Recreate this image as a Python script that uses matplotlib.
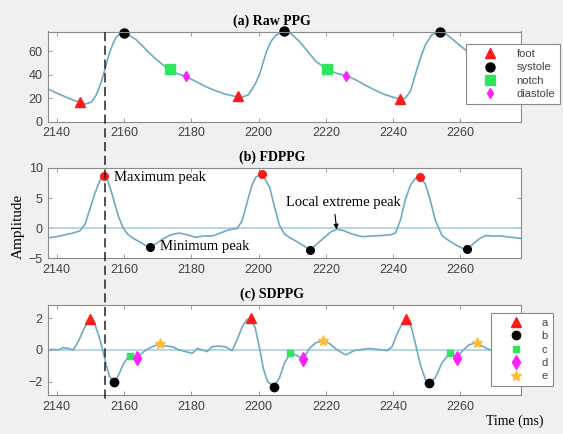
import matplotlib
matplotlib.use('Agg')
import matplotlib.pyplot as plt
import matplotlib.transforms as mtransforms
from matplotlib.lines import Line2D

# (a) raw PPG
ppg_t = [2137.5, 2140, 2143, 2146, 2148.4, 2150.3, 2151.8, 2153.3, 2154.3, 2155.2,
         2156.2, 2157.5, 2158.7, 2159.9, 2161.6, 2163.6, 2165.6, 2167.5, 2169.5, 2171.5,
         2173.6, 2175.9, 2178.3, 2181.3, 2184.2, 2187.2, 2190.1, 2193.1, 2195, 2197,
         2199, 2200.5, 2201.5, 2202.5, 2203.8, 2205.2, 2207.5, 2209.7, 2212.1, 2214.6,
         2217, 2220.2, 2223, 2226.1, 2228.9, 2231.8, 2234.8, 2237.7, 2240.2, 2242,
         2243.6, 2245.1, 2246.6, 2248.1, 2249.6, 2251.5, 2253.8, 2256, 2258.4, 2261.4,
         2264.5, 2267, 2270, 2274, 2278]
ppg_v = [27.7, 24.3, 20.6, 17.1, 14.9, 16.6, 22.9, 34.3, 44.3, 54,
         62.9, 71.4, 74.9, 75.4, 73.7, 70, 64.3, 58.6, 53.4, 48.6,
         44.6, 40.9, 38.6, 34.3, 30, 26.3, 23.4, 21.4, 20.6, 23,
         32, 42, 52, 61, 69, 74, 77, 74.9, 68.6, 60,
         51.4, 45.1, 41.4, 39.1, 35.7, 30.9, 26.6, 22.9, 20.6, 19.1,
         20, 25.7, 40, 54.3, 65.7, 74.3, 76.3, 74.3, 68.6, 61.4,
         52, 46, 42, 38, 34]
foot_t, foot_v = [2147, 2194, 2242], [16.5, 21.5, 19]
sys_t, sys_v = [2160, 2207.5, 2254], [75.4, 77, 76.3]
notch_t, notch_v = [2173.6, 2220.2], [44.6, 45.1]
dia_t, dia_v = [2178.4, 2226.1], [38.6, 39.1]

# (b) first derivative
fd_t = [2137.5, 2140, 2142.5, 2144.9, 2146.9, 2148.4, 2149.8, 2151.3, 2152.8, 2154,
        2155.2, 2156.7, 2158.2, 2159.7, 2161.1, 2163.1, 2165.1, 2166.5, 2167.8, 2169.5,
        2171.5, 2173.9, 2176.4, 2178.8, 2181.3, 2183.8, 2186.2, 2188.7, 2191.1, 2193.6,
        2195.1, 2196.5, 2198, 2199.2, 2201, 2203.3, 2204.7, 2206.2, 2207.7, 2209.7,
        2211.6, 2213.6, 2215.2, 2217, 2219, 2221.5, 2223.4, 2225.4, 2227.9, 2230.8,
        2233.8, 2236.7, 2239.2, 2240.7, 2242.2, 2243.6, 2245.1, 2246.6, 2248, 2249.6,
        2251, 2252.5, 2254.5, 2256.4, 2258.4, 2260.4, 2262, 2263.8, 2265.7, 2267.7,
        2269.2, 2272, 2275, 2278]
fd_v = [-1.6, -1.4, -1.1, -0.8, -0.43, 0.64, 3.05, 5.7, 7.9, 8.6,
        7.9, 5.2, 2.2, 0.1, -1, -1.8, -2.4, -2.9, -3.05, -2.6,
        -1.8, -1.1, -0.8, -1.1, -1.5, -1.3, -1.3, -0.8, -0.27, -0.05,
        1.2, 4.1, 7.1, 8.5, 9.0, 6.8, 3.6, 0.5, -1, -1.7,
        -2.3, -3, -3.6, -2.8, -1.8, -0.6, -0.16, -0.43, -1, -1.4,
        -1.3, -1.2, -1.1, -0.8, 1.4, 4.7, 7.1, 8.3, 8.5, 7.3,
        4.7, 1.4, -1.2, -2, -2.7, -3.3, -3.5, -2.6, -1.7, -1.2,
        -1.3, -1.3, -1.5, -1.7]
max_t, max_v = [2154, 2201, 2248], [8.6, 9.0, 8.5]
min_t, min_v = [2167.8, 2215.2, 2262], [-3.05, -3.6, -3.5]

# (c) second derivative
sd_t = [2137.5, 2139, 2140.5, 2142, 2143.4, 2144.9, 2146.4, 2147.9, 2149.3, 2150,
        2151.3, 2152.6, 2153.8, 2154.7, 2155.7, 2156.9, 2158.2, 2159.7, 2161.4, 2162.6,
        2163.8, 2165.1, 2166.5, 2168.5, 2170.5, 2172.4, 2174.4, 2176.4, 2178.3, 2180.3,
        2181.8, 2183.3, 2184.7, 2186.2, 2188.2, 2190.1, 2192.1, 2193.6, 2195.1, 2196.5,
        2197.7, 2199, 2200.3, 2201.5, 2202.7, 2204.5, 2206.2, 2207.7, 2209.4, 2211.1,
        2213.3, 2215.1, 2217, 2219.2, 2221, 2223.4, 2225.9, 2228.4, 2230.8, 2232.8,
        2235.3, 2238.2, 2239.7, 2241.2, 2242.7, 2243.8, 2245.1, 2246.6, 2248.1, 2249.6,
        2250.8, 2252.5, 2254.5, 2256.7, 2257.9, 2258.9, 2260.4, 2262.4, 2264.5, 2266.8,
        2269.3, 2272, 2275, 2278]
sd_v = [0, 0.04, 0, 0.15, 0.1, 0, 0.52, 1.25, 1.83, 1.94,
        1.67, 0.83, -0.1, -0.94, -1.67, -2.04, -1.67, -0.94, -0.38, -0.38,
        -0.52, -0.25, 0, 0.21, 0.38, 0.25, 0.21, 0, -0.1, -0.21,
        0.1, 0, -0.1, 0.21, 0.25, 0.21, -0.04, 0.63, 1.46, 1.92,
        2.02, 1.4, 0.1, -1.25, -2.0, -2.32, -1.77, -0.83, -0.21, -0.31,
        -0.58, 0.1, 0.46, 0.58, 0.42, 0, -0.31, -0.04, 0.04, 0.1,
        0.04, -0.04, 0.21, 1.04, 1.67, 1.95, 1.67, 0.42, -0.94, -1.88,
        -2.08, -1.77, -0.83, -0.21, -0.31, -0.52, -0.1, 0.31, 0.46, 0.21,
        -0.04, 0, 0, 0]
a_t, a_v = [2150, 2197.7, 2243.8], [1.97, 2.05, 1.97]
b_t, b_v = [2156.9, 2204.5, 2250.8], [-2.02, -2.32, -2.08]
c_t, c_v = [2161.9, 2209.2, 2256.8], [-0.35, -0.2, -0.2]
d_t, d_v = [2163.9, 2213.2, 2258.9], [-0.5, -0.55, -0.5]
e_t, e_v = [2170.8, 2219.1, 2264.8], [0.4, 0.6, 0.45]

xticks = [2140, 2160, 2180, 2200, 2220, 2240, 2260]
marker_x = 2154.3

line_c = '#6fa9c4'
zero_c = '#a3cbdc'
red, green, magenta, gold = '#ff1a1a', '#2ee65c', '#ff22ff', '#ffbb33'
serif = 'Liberation Serif'
sans = 'Liberation Sans'

fig = plt.figure(figsize=(5.63, 4.34), dpi=100, facecolor='#f0f0f0')
W, H = 563, 434

def make_ax(top, bottom):
    ax = fig.add_axes([48.3 / W, 1 - bottom / H, (521 - 48.3) / W, (bottom - top) / H])
    ax.set_facecolor('white')
    for s in ax.spines.values():
        s.set_color('#8a8a8a')
        s.set_linewidth(0.8)
    ax.tick_params(direction='in', top=True, right=True, length=3, width=0.6,
                   color='#8a8a8a', labelcolor='#404040', labelsize=9, pad=4)
    ax.set_xlim(2137.5, 2278)
    ax.set_xticks(xticks)
    return ax

def finish(ax, txt):
    for lab in ax.get_xticklabels() + ax.get_yticklabels():
        lab.set_family(sans)
    ax.set_title(txt, x=0.473, pad=5, fontsize=10, fontweight='bold', family=serif)

def legend(ax, x, y, hl, htp):
    leg = ax.legend(loc='upper left', bbox_to_anchor=(x / W, 1 - y / H),
                    bbox_transform=fig.transFigure, fancybox=False, framealpha=1,
                    edgecolor='#8a8a8a', prop={'family': sans, 'size': 8},
                    borderpad=0.45, handlelength=hl, handletextpad=htp,
                    labelspacing=0.31, borderaxespad=0)
    leg.get_frame().set_linewidth(0.8)
    for t in leg.get_texts():
        t.set_color('#404040')

# (a)
ax1 = make_ax(31.5, 121.5)
ax1.plot(ppg_t, ppg_v, color=line_c, lw=1.2)
ax1.plot(foot_t, foot_v, '^', color=red, ms=7, ls='none', label='foot')
ax1.plot(sys_t, sys_v, 'o', color='black', ms=6.5, ls='none', label='systole', clip_on=False)
ax1.plot(notch_t, notch_v, 's', color=green, ms=6.5, ls='none', label='notch')
ax1.plot(dia_t, dia_v, 'd', color=magenta, ms=5, ls='none', label='diastole')
ax1.set_ylim(0, 77)
ax1.set_yticks([0, 20, 40, 60])
finish(ax1, '(a) Raw PPG')
legend(ax1, 466, 44, 3.5, 0.6)

# (b)
ax2 = make_ax(168, 258.3)
ax2.axhline(0, color=zero_c, lw=1.1)
ax2.plot(fd_t, fd_v, color=line_c, lw=1.2)
ax2.plot(max_t, max_v, 'o', color=red, ms=5.5, ls='none')
ax2.plot(min_t, min_v, 'o', color='black', ms=5.5, ls='none')
ax2.set_ylim(-5, 10)
ax2.set_yticks([-5, 0, 5, 10])
finish(ax2, '(b) FDPPG')
ax2.text(2156.9, 8.4, 'Maximum peak', family=serif, fontsize=10.5, va='center')
ax2.text(2170.7, -3.1, 'Minimum peak', family=serif, fontsize=10.5, va='center')
ax2.annotate('Local extreme peak', xy=(2223.2, -0.2), xytext=(2208.2, 4.3),
             family=serif, fontsize=10.5, va='center',
             arrowprops=dict(arrowstyle='-|>', color='black', lw=0.8,
                             mutation_scale=7, shrinkA=2, shrinkB=0,
                             relpos=(0.42, 0)))

# (c)
ax3 = make_ax(305, 395)
ax3.axhline(0, color=zero_c, lw=1.1)
ax3.plot(sd_t, sd_v, color=line_c, lw=1.2)
ax3.plot(a_t, a_v, '^', color=red, ms=6.5, ls='none', label='a')
ax3.plot(b_t, b_v, 'o', color='black', ms=6, ls='none', label='b')
ax3.plot(c_t, c_v, 's', color=green, ms=4.5, ls='none', label='c')
ax3.plot(d_t, d_v, 'd', color=magenta, ms=7, ls='none', label='d')
ax3.plot(e_t, e_v, '*', color=gold, ms=8, ls='none', label='e')
ax3.set_ylim(-2.85, 2.85)
ax3.set_yticks([-2, 0, 2])
finish(ax3, '(c) SDPPG')
legend(ax3, 490.7, 312.7, 3.7, 0.4)

fig.text(18 / W, 1 - 226 / H, 'Amplitude', rotation=90, family=serif,
         fontsize=11, ha='center', va='center')
fig.text(515 / W, 1 - 421.7 / H, 'Time (ms)', family=serif, fontsize=10,
         ha='center', va='center')

# dashed marker line running through all three panels
tr = mtransforms.blended_transform_factory(ax1.transData, fig.transFigure)
fig.add_artist(Line2D([marker_x, marker_x], [1 - 31.5 / H, 1 - 400 / H],
                      transform=tr, color='#222222', lw=1.1,
                      dashes=(6, 3), zorder=5))

fig.savefig('out.png', dpi=100, facecolor=fig.get_facecolor())
